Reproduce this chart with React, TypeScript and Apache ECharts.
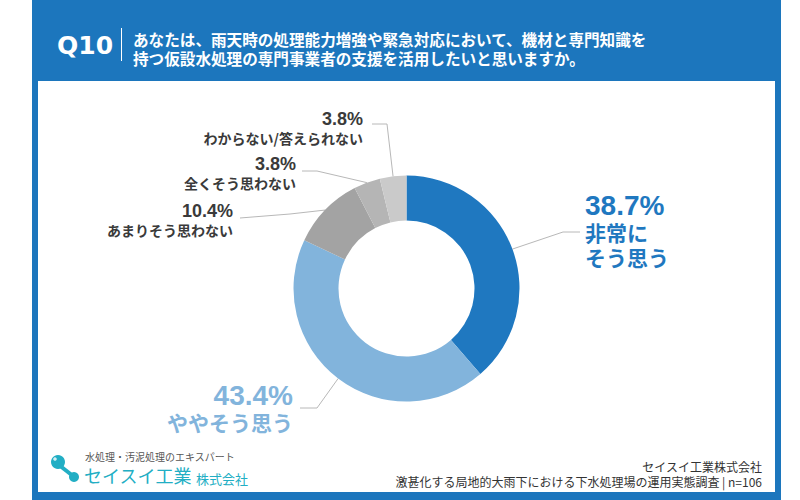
import React, { useEffect, useRef } from "react";
import * as echarts from "echarts";

const categories = ["非常にそう思う", "ややそう思う", "あまりそう思わない", "全くそう思わない", "わからない/答えられない"];
const percents = [38.7, 43.4, 10.4, 3.8, 3.8];
const labelTexts = ["非常に\nそう思う", "ややそう思う", "あまりそう思わない", "全くそう思わない", "わからない/答えられない"];
const titleLines = [
  "あなたは、雨天時の処理能力増強や緊急対応において、機材と専門知識を",
  "持つ仮設水処理の専門事業者の支援を活用したいと思いますか。",
];
const questionNo = "Q10";
const companyTagline = "水処理・汚泥処理のエキスパート";
const companyName = "セイスイ工業";
const companySuffix = "株式会社";
const footerLines = ["セイスイ工業株式会社", "激甚化する局地的大雨下における下水処理場の運用実態調査 | n=106"];

const colors = ["#1f78c0", "#82b4dc", "#a3a3a3", "#b5b5b5", "#cacaca"];
const labelColors = ["#1f78c0", "#82b4dc", "#3a3a3a", "#3a3a3a", "#3a3a3a"];

const JP = "'Noto Sans CJK JP', sans-serif";
const NUM = "'Liberation Sans', 'Noto Sans CJK JP', sans-serif";

// label placement (layout only)
const labelPos = [
  { x: 585, y: 191, align: "left", bend: [563, 232], end: [580, 232] },
  { x: 293, y: 381, align: "right", bend: [317, 408], end: [300, 408] },
  { x: 233, y: 201, align: "right", bend: [290, 214], end: [240, 218] },
  { x: 296, y: 154, align: "right", bend: [317, 171], end: [302, 171] },
  { x: 363, y: 109, align: "right", bend: [387, 124], end: [372, 124] },
];

const CX = 406.5;
const CY = 288.5;
const R_IN = 68;
const R_OUT = 113;

export default function App() {
  const ref = useRef<HTMLDivElement>(null);
  useEffect(() => {
    if (!ref.current) return;
    const chart = echarts.init(ref.current, null, { renderer: "svg" });
    const total = percents.reduce((a, b) => a + b, 0);

    const data = categories.map((name, i) => {
      const big = i < 2;
      const align = labelPos[i].align;
      const lines = labelTexts[i].split("\n").map((t) => `{t|${t}}`).join("\n");
      return {
        name,
        value: percents[i],
        itemStyle: {
          color: colors[i],
          decal: i >= 3
            ? { symbol: "circle", symbolSize: 0.5, dashArrayX: [[1, 2]], dashArrayY: [1, 2], color: "rgba(255,255,255,0.35)" }
            : undefined,
        },
        label: {
          formatter: `{p|${percents[i].toFixed(1)}%}\n${lines}`,
          rich: {
            p: {
              fontFamily: NUM,
              fontSize: big ? 28 : 18,
              fontWeight: "bold",
              lineHeight: big ? 28 : 20,
              color: labelColors[i],
              align,
            },
            t: {
              fontFamily: JP,
              fontSize: big ? 21 : 14,
              fontWeight: "bold",
              lineHeight: big ? 25 : 17,
              color: labelColors[i],
              align,
            },
          },
        },
      };
    });

    const midPoint = (i: number) => {
      let acc = 0;
      for (let k = 0; k < i; k++) acc += percents[k];
      const frac = (acc + percents[i] / 2) / total;
      const ang = frac * Math.PI * 2;
      return [CX + R_OUT * Math.sin(ang), CY - R_OUT * Math.cos(ang)];
    };

    chart.setOption({
      animation: false,
      graphic: [
        { type: "rect", z: -10, shape: { x: 32, y: 0, width: 749, height: 500 }, style: { fill: "#1c76bd" } },
        { type: "rect", z: -9, shape: { x: 38, y: 81, width: 737, height: 411 }, style: { fill: "#ffffff" } },
        {
          type: "text", x: 57, y: 45,
          style: { text: questionNo, fill: "#ffffff", font: "bold 25px 'DejaVu Sans', sans-serif", align: "left", verticalAlign: "middle" },
        },
        { type: "line", shape: { x1: 121.5, y1: 28, x2: 121.5, y2: 61 }, style: { stroke: "#ffffff", lineWidth: 1 } },
        {
          type: "text", x: 133, y: 38.5,
          style: { text: titleLines[0], fill: "#ffffff", font: `bold 15.6px ${JP}`, align: "left", verticalAlign: "middle" },
        },
        {
          type: "text", x: 133, y: 57.5,
          style: { text: titleLines[1], fill: "#ffffff", font: `bold 15.6px ${JP}`, align: "left", verticalAlign: "middle" },
        },
        // logo
        { type: "line", shape: { x1: 59, y1: 465, x2: 73, y2: 476 }, style: { stroke: "#22aec4", lineWidth: 4 } },
        { type: "circle", shape: { cx: 58, cy: 462, r: 7 }, style: { fill: "#22aec4" } },
        { type: "circle", shape: { cx: 74, cy: 477, r: 5 }, style: { fill: "#22aec4" } },
        { type: "circle", shape: { cx: 55, cy: 459, r: 1.8 }, style: { fill: "rgba(255,255,255,0.8)" } },
        {
          type: "text", x: 85, y: 456,
          style: { text: companyTagline, fill: "#555555", font: `10px ${JP}`, align: "left", verticalAlign: "middle" },
        },
        {
          type: "text", x: 84, y: 475,
          style: { text: companyName, fill: "#22aec4", font: `18px ${JP}`, align: "left", verticalAlign: "middle" },
        },
        {
          type: "text", x: 196, y: 478,
          style: { text: companySuffix, fill: "#22aec4", font: `13px ${JP}`, align: "left", verticalAlign: "middle" },
        },
        {
          type: "text", x: 762, y: 466,
          style: { text: footerLines[0], fill: "#333333", font: `12px ${JP}`, align: "right", verticalAlign: "middle" },
        },
        {
          type: "text", x: 762, y: 481,
          style: { text: footerLines[1], fill: "#333333", font: `12px ${JP}`, align: "right", verticalAlign: "middle" },
        },
      ],
      series: [
        {
          type: "pie",
          center: [CX, CY],
          radius: [R_IN, R_OUT],
          startAngle: 90,
          clockwise: true,
          avoidLabelOverlap: false,
          label: { show: true, position: "outside" },
          labelLine: { show: true, length: 10, length2: 10, lineStyle: { color: "#b8b8b8", width: 1 } },
          emphasis: { disabled: true },
          labelLayout: (params: any) => {
            const i = params.dataIndex;
            const lp = labelPos[i];
            const start = midPoint(i);
            return {
              x: lp.x,
              y: lp.y,
              align: lp.align,
              verticalAlign: "top",
              labelLinePoints: [start, lp.bend, lp.end],
            };
          },
          data,
        },
      ],
    });
    return () => chart.dispose();
  }, []);
  return <div ref={ref} style={{ position: "fixed", left: 0, top: 0, width: 800, height: 500, background: "#ffffff" }} />;
}
